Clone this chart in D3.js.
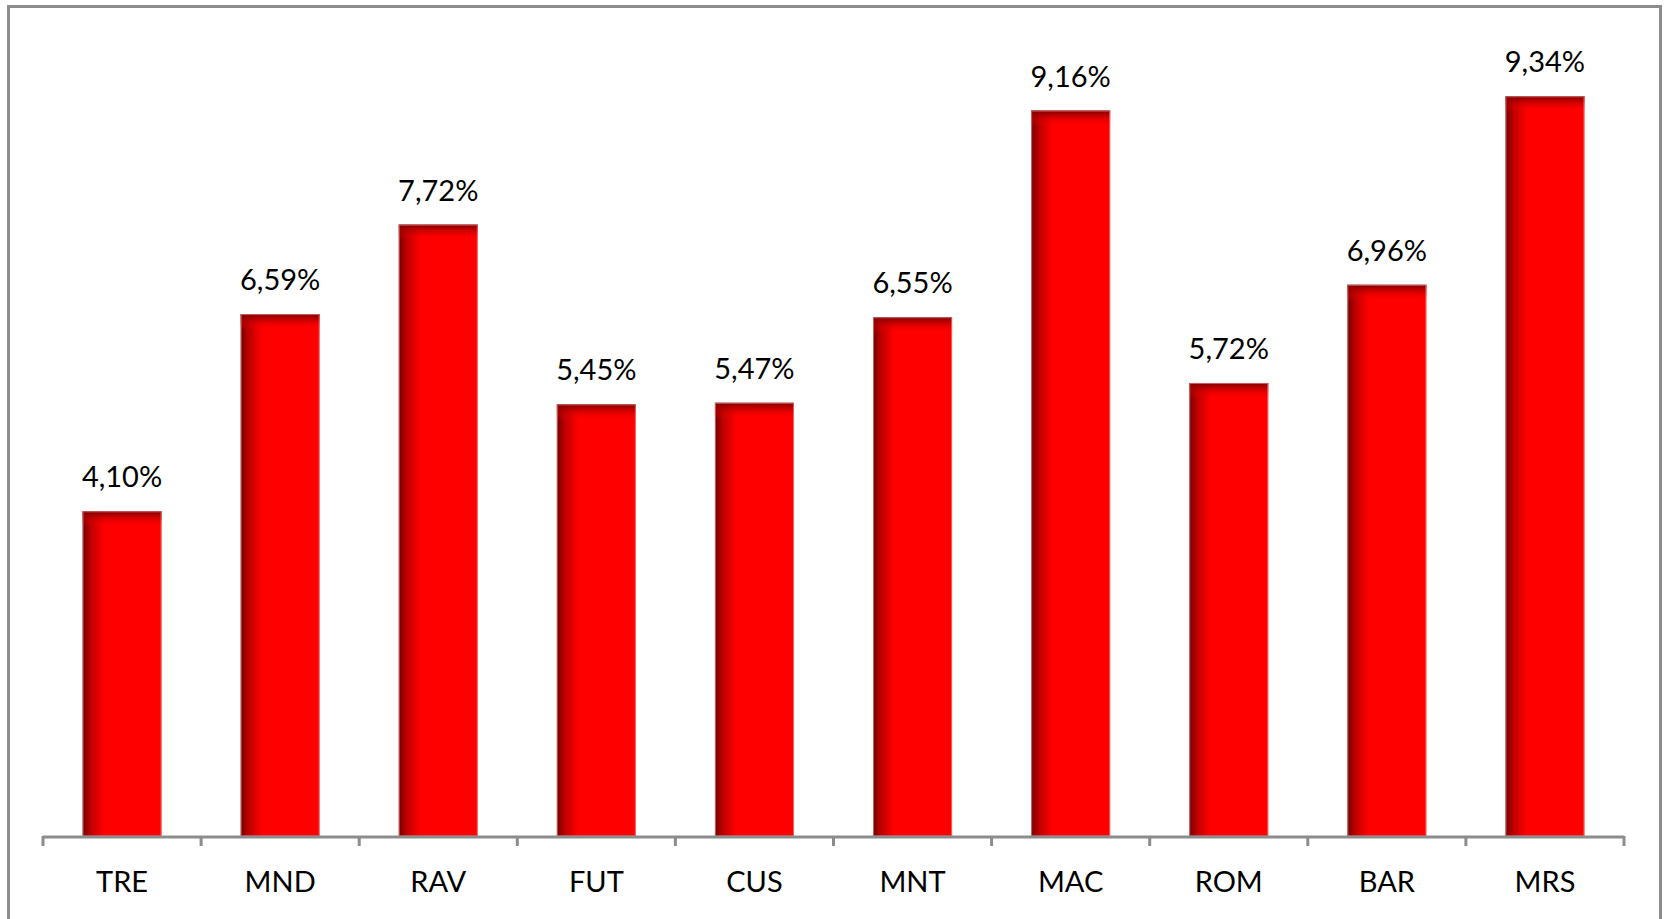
<!DOCTYPE html>
<html>
<head>
<meta charset="utf-8">
<script src="https://cdn.jsdelivr.net/npm/d3@7"></script>
<style>
  body { margin: 0; background: #fff; }
  text { font-family: Lato, "Liberation Sans", sans-serif; fill: #000; }
</style>
</head>
<body>
<div id="chart"></div>
<script>
// data
var categories = ["TRE", "MND", "RAV", "FUT", "CUS", "MNT", "MAC", "ROM", "BAR", "MRS"];
var values = [4.10, 6.59, 7.72, 5.45, 5.47, 6.55, 9.16, 5.72, 6.96, 9.34];
var labels = ["4,10%", "6,59%", "7,72%", "5,45%", "5,47%", "6,55%", "9,16%", "5,72%", "6,96%", "9,34%"];

var W = 1665, H = 919;
var left = 43, right = 1624, axisY = 836, topY = 44;

var svg = d3.select("#chart").append("svg")
	.attr("width", W)
	.attr("height", H);

var defs = svg.append("defs");
var hg = defs.append("linearGradient").attr("id", "barSide")
	.attr("x1", 0).attr("x2", 1).attr("y1", 0).attr("y2", 0);
hg.append("stop").attr("offset", 0).attr("stop-color", "#730000");
hg.append("stop").attr("offset", 0.1).attr("stop-color", "#bd0000");
hg.append("stop").attr("offset", 0.27).attr("stop-color", "#ff0000");
hg.append("stop").attr("offset", 1).attr("stop-color", "#ff0000");

var vg = defs.append("linearGradient").attr("id", "barTop")
	.attr("x1", 0).attr("x2", 0).attr("y1", 0).attr("y2", 1);
vg.append("stop").attr("offset", 0).attr("stop-color", "#7a0000").attr("stop-opacity", 1);
vg.append("stop").attr("offset", 0.4).attr("stop-color", "#b00000").attr("stop-opacity", 0.6);
vg.append("stop").attr("offset", 1).attr("stop-color", "#ff0000").attr("stop-opacity", 0);

// frame round the chart
svg.append("rect")
	.attr("x", 8.5).attr("y", 6.5)
	.attr("width", 1652).attr("height", 1000)
	.attr("fill", "none")
	.attr("stroke", "#8c8c8c")
	.attr("stroke-width", 3);

var x = d3.scaleBand()
	.domain(categories)
	.range([left, right])
	.paddingInner(0.5)
	.paddingOuter(0.25);

var xAxisBand = d3.scaleBand()
	.domain(categories)
	.range([left, right])
	.padding(0);

var y = d3.scaleLinear()
	.domain([0, 10])
	.range([axisY, topY]);

var data = categories.map(function(c, i) {
	return { cat: c, value: values[i], label: labels[i] };
});

var bars = svg.selectAll(".bar")
	.data(data)
	.enter()
	.append("g")
	.attr("class", "bar");

bars.append("rect")
	.attr("x", d => x(d.cat))
	.attr("y", d => y(d.value))
	.attr("width", x.bandwidth())
	.attr("height", d => axisY - y(d.value))
	.attr("fill", "url(#barSide)");

bars.append("rect")
	.attr("x", d => x(d.cat))
	.attr("y", d => y(d.value))
	.attr("width", x.bandwidth())
	.attr("height", 16)
	.attr("fill", "url(#barTop)");

bars.append("rect")
	.attr("x", d => x(d.cat) + 0.5)
	.attr("y", d => y(d.value) + 0.5)
	.attr("width", x.bandwidth() - 1)
	.attr("height", d => axisY - y(d.value) - 0.5)
	.attr("fill", "none")
	.attr("stroke", "#f0a0a0")
	.attr("stroke-opacity", 0.6)
	.attr("stroke-width", 1);

bars.append("text")
	.attr("x", d => x(d.cat) + x.bandwidth() / 2)
	.attr("y", d => y(d.value) - 24)
	.attr("text-anchor", "middle")
	.style("font-size", "29px")
	.text(d => d.label);

// x axis: line, ticks at band edges, labels under the centres
var axis = svg.append("g");
axis.append("line")
	.attr("x1", left).attr("x2", right)
	.attr("y1", axisY + 1).attr("y2", axisY + 1)
	.attr("stroke", "#8c8c8c")
	.attr("stroke-width", 3);

var edges = categories.map(c => xAxisBand(c)).concat([right]);
axis.selectAll(".tick")
	.data(edges)
	.enter()
	.append("line")
	.attr("x1", d => d).attr("x2", d => d)
	.attr("y1", axisY).attr("y2", axisY + 10)
	.attr("stroke", "#8c8c8c")
	.attr("stroke-width", 3);

axis.selectAll(".cat")
	.data(categories)
	.enter()
	.append("text")
	.attr("x", d => xAxisBand(d) + xAxisBand.bandwidth() / 2)
	.attr("y", 892)
	.attr("text-anchor", "middle")
	.style("font-size", "29px")
	.text(d => d);
</script>
</body>
</html>
